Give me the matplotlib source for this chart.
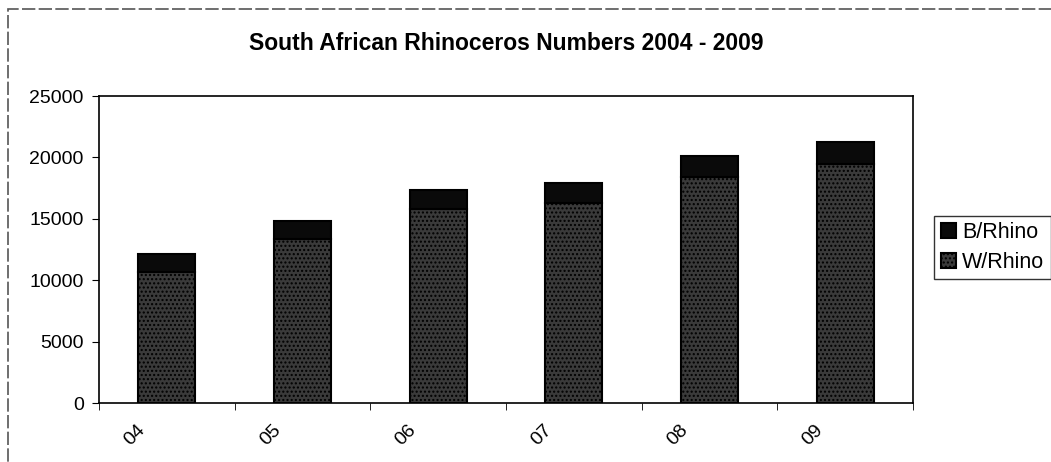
import numpy as np
import matplotlib.pyplot as plt
from matplotlib.patches import Rectangle
from matplotlib.transforms import ScaledTranslation

plt.rcParams['font.family'] = ['Liberation Sans', 'DejaVu Sans']

# data
years = ["04", "05", "06", "07", "08", "09"]
black_rhino = [1450, 1500, 1550, 1650, 1700, 1750]
white_rhino = [10700, 13350, 15800, 16250, 18400, 19500]

fig = plt.figure(figsize=(10.51, 4.62), dpi=100)
ax = fig.add_axes([0.0942, 0.1277, 0.7745, 0.6645])

x = np.arange(len(years))
w = 0.42
ax.bar(x, white_rhino, w, color="#3a3a3a", edgecolor="black", linewidth=1.5,
       hatch="....", label="W/Rhino")
ax.bar(x, black_rhino, w, bottom=white_rhino, color="#0a0a0a",
       edgecolor="black", linewidth=1.5, label="B/Rhino")

ax.set_xlim(-0.5, len(years) - 0.5)
ax.set_ylim(0, 25000)
ax.set_yticks(range(0, 25001, 5000))
ax.tick_params(axis="y", labelsize=14, length=5, direction="out", pad=6)

# category labels rotated, ticks between categories
ax.set_xticks(x)
ax.set_xticklabels(years, rotation=45, fontsize=14, ha="center")
ax.tick_params(axis="x", length=0, pad=13)
shift = ScaledTranslation(-32 / 100, 0, fig.dpi_scale_trans)
for lab in ax.get_xticklabels():
    lab.set_transform(lab.get_transform() + shift)
ax.set_xticks(np.arange(-0.5, len(years), 1), minor=True)
ax.tick_params(axis="x", which="minor", length=5, direction="out")

for s in ax.spines.values():
    s.set_linewidth(1.2)
    s.set_color("black")

ax.set_title("South African Rhinoceros Numbers 2004 - 2009",
             fontsize=16.5, fontweight="bold", pad=33)

handles, labels = ax.get_legend_handles_labels()
leg = ax.legend(handles[::-1], labels[::-1], loc="center left",
                bbox_to_anchor=(1.026, 0.506), fontsize=15.5, frameon=True,
                fancybox=False, edgecolor="black", handlelength=0.7,
                handleheight=0.7, handletextpad=0.3, borderpad=0.3,
                labelspacing=0.4, borderaxespad=0)
leg.get_frame().set_linewidth(1.0)

# outer chart frame
fig.patches.append(Rectangle((0.008, -0.01), 1.1, 0.99,
                             transform=fig.transFigure, fill=False,
                             edgecolor="#555555", linewidth=1.2,
                             linestyle=(0, (8, 2))))

fig.savefig("out.png", dpi=100)
